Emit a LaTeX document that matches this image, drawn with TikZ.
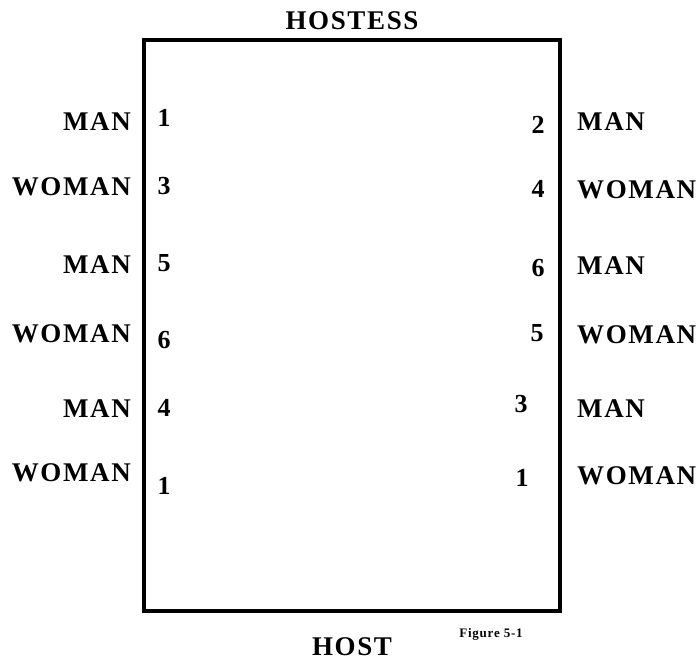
\documentclass[tikz,border=0pt]{standalone}
\usepackage{fontspec}
\setmainfont{Liberation Serif}
\newfontfamily\spaced[LetterSpace=6]{Liberation Serif}
\begin{document}
\begin{tikzpicture}[x=1pt,y=-1pt,
  lbl/.style={font=\spaced\fontsize{27}{29}\selectfont\bfseries, inner sep=0pt},
  lab/.style={lbl, anchor=east},
  rab/.style={lbl, anchor=west},
  num/.style={font=\fontsize{26}{28}\selectfont\bfseries, inner sep=0pt},
  tbl/.style={draw, line width=3.5pt}]
\useasboundingbox (0,0) rectangle (699,665);
\node[tbl, minimum width=416pt, minimum height=571pt, inner sep=0pt] (table) at (352,325.5) {};
\node[lbl] (hostess) at (352,21) {HOSTESS};
\node[lbl] (host) at (352,647) {HOST};
\node[font=\spaced\fontsize{13}{14}\selectfont\bfseries, inner sep=0pt] (fig) at (491,634) {Figure 5-1};
% left side
\node[lab] (l1) at (131,122) {MAN};
\node[lab] (l2) at (131,187) {WOMAN};
\node[lab] (l3) at (131,265) {MAN};
\node[lab] (l4) at (131,334) {WOMAN};
\node[lab] (l5) at (131,409) {MAN};
\node[lab] (l6) at (131,473) {WOMAN};
\node[num] (ln1) at (164,118) {1};
\node[num] (ln2) at (164,186) {3};
\node[num] (ln3) at (164,263) {5};
\node[num] (ln4) at (164,340) {6};
\node[num] (ln5) at (164,408) {4};
\node[num] (ln6) at (164,486) {1};
% right side
\node[rab] (r1) at (577,122) {MAN};
\node[rab] (r2) at (577,190) {WOMAN};
\node[rab] (r3) at (577,266) {MAN};
\node[rab] (r4) at (577,335) {WOMAN};
\node[rab] (r5) at (577,409) {MAN};
\node[rab] (r6) at (577,476) {WOMAN};
\node[num] (rn1) at (538,125) {2};
\node[num] (rn2) at (538,189) {4};
\node[num] (rn3) at (538,268) {6};
\node[num] (rn4) at (537,333) {5};
\node[num] (rn5) at (521,404) {3};
\node[num] (rn6) at (522,478) {1};
\end{tikzpicture}
\end{document}
